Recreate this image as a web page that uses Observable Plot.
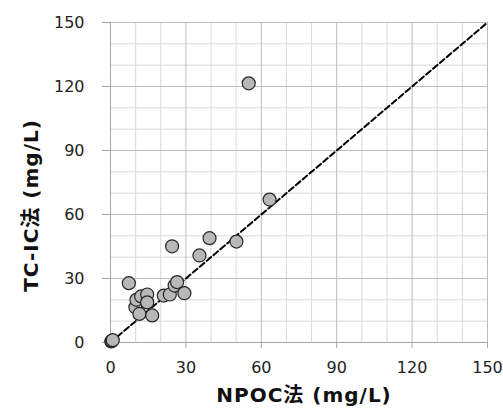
<!DOCTYPE html>
<html><head><meta charset="utf-8">
<script src="https://cdn.jsdelivr.net/npm/d3@7"></script>
<script src="https://cdn.jsdelivr.net/npm/@observablehq/plot@0.6"></script>
<style>body{margin:0;background:#fff}</style>
</head><body><div id="chart"></div>
<script>
const npoc = [0.3, 0.6, 0.9, 7.3, 9.9, 10.3, 11.5, 12.2, 14.6, 14.6, 16.6, 21.2, 23.6, 25.5, 26.5, 29.4, 24.5, 35.4, 39.4, 50.1, 55.0, 63.3];
const tcic = [0.5, 0.8, 1.1, 27.8, 16.5, 20.0, 13.4, 21.6, 22.5, 18.8, 12.7, 22.0, 22.5, 26.7, 28.3, 23.1, 45.1, 40.8, 48.9, 47.3, 121.5, 67.0];
const lineX = [0, 150];
const lineY = [0, 150];
const majorTicks = [0, 30, 60, 90, 120, 150];
const minorTicks = [10, 20, 40, 50, 70, 80, 100, 110, 130, 140];
const xLabel = "NPOC法 (mg/L)";
const yLabel = "TC-IC法 (mg/L)";

const points = npoc.map((x, i) => ({x, y: tcic[i]}));
const diag = lineX.map((x, i) => ({x, y: lineY[i]}));
const font = "'DejaVu Sans', 'Noto Sans CJK JP', sans-serif";

const chart = Plot.plot({
  width: 503, height: 411,
  marginLeft: 110, marginRight: 16, marginTop: 22, marginBottom: 69,
  style: {fontFamily: font, fontSize: "16px", color: "#222", background: "#fff", overflow: "visible"},
  x: {domain: [0, 150]},
  y: {domain: [0, 150]},
  marks: [
    Plot.gridX(minorTicks, {stroke: "#d9d9d9", strokeOpacity: 1}),
    Plot.gridY(minorTicks, {stroke: "#d9d9d9", strokeOpacity: 1}),
    Plot.gridX(majorTicks.slice(1), {stroke: "#bdbdbd", strokeOpacity: 1}),
    Plot.gridY(majorTicks.slice(1), {stroke: "#bdbdbd", strokeOpacity: 1}),
    Plot.ruleX([0], {stroke: "#a6a6a6"}),
    Plot.ruleY([0], {stroke: "#a6a6a6"}),
    Plot.axisX(majorTicks, {tickSize: 6, tickPadding: 13, stroke: "#a6a6a6", label: null, fill: "#222"}),
    Plot.axisY(majorTicks, {tickSize: 8, tickPadding: 18, stroke: "#a6a6a6", label: null, fill: "#222"}),
    Plot.line(diag, {x: "x", y: "y", stroke: "#000", strokeWidth: 2, strokeDasharray: "6,3"}),
    Plot.dot(points, {x: "x", y: "y", r: 6.5, fill: "#b8b8b8", stroke: "#262626", strokeWidth: 1.2}),
    Plot.text([xLabel], {frameAnchor: "bottom", textAnchor: "middle", dx: 5, dy: 59, text: d => d, fontWeight: "bold", fontSize: 20, fill: "#111"}),
    Plot.text([yLabel], {frameAnchor: "left", textAnchor: "middle", dx: -79, dy: 23, rotate: -90, text: d => d, fontWeight: "bold", fontSize: 20, fill: "#111"})
  ]
});
document.getElementById("chart").append(chart);
document.querySelectorAll("svg text").forEach(t => { if (t.textContent === xLabel || t.textContent === yLabel) t.style.letterSpacing = "1px"; });
</script>
</body></html>
